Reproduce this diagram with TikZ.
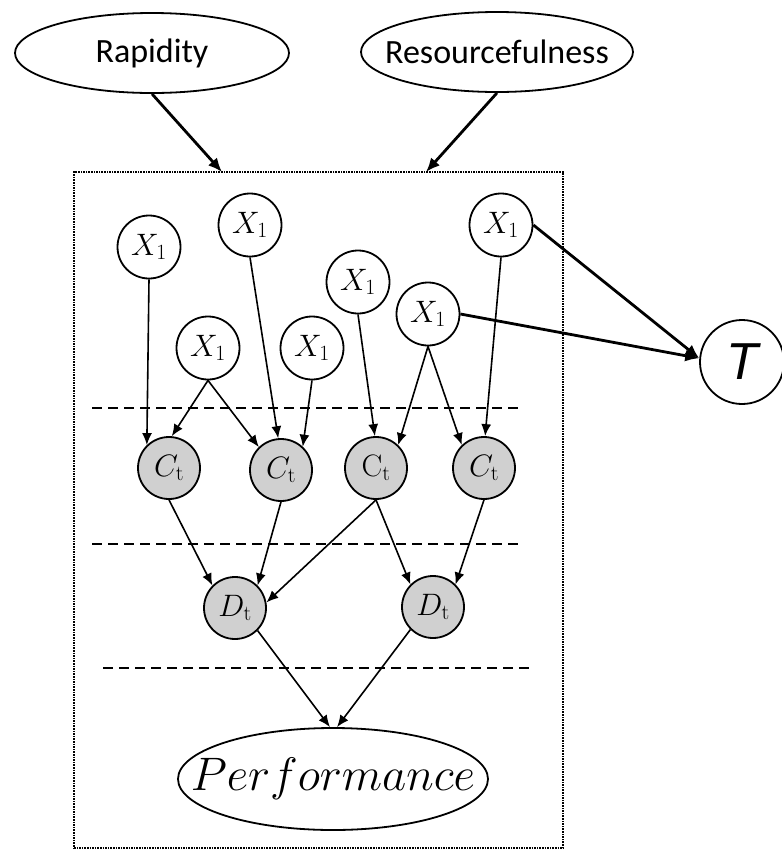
\documentclass[tikz,border=0pt]{standalone}
\usepackage{fix-cm}
\usepackage[no-math]{fontspec}
\setmainfont{Carlito}
\newfontfamily\arialf{Liberation Sans}
\usetikzlibrary{shapes.geometric,arrows.meta}
\definecolor{nodegray}{RGB}{208,208,208}
\begin{document}
\begin{tikzpicture}[x=1pt,y=-1pt,
  xnode/.style={circle,draw,line width=1.8pt,minimum size=63pt,inner sep=0pt,font=\fontsize{31}{34}\selectfont},
  cnode/.style={xnode,fill=nodegray,minimum size=62pt},
  oval/.style={ellipse,draw,line width=1.8pt,inner sep=0pt},
  arr/.style={line width=1.6pt,-{Latex[length=12pt,width=10pt]}},
  tarr/.style={line width=2.8pt,-{Latex[length=14pt,width=12pt]}},
  sep/.style={line width=2pt,dash pattern=on 10pt off 6pt}]
\useasboundingbox (0,0) rectangle (782,855);
% outer nodes
\node[oval,minimum width=274pt,minimum height=80pt,label={[font=\fontsize{34}{40}\selectfont]center:Rapidity}] (Rap) at (152,53) {};
\node[oval,minimum width=272pt,minimum height=80pt,label={[font=\fontsize{34}{40}\selectfont]center:Resourcefulness}] (Res) at (497,52) {};
\node[draw,line width=1.6pt,densely dotted,minimum width=489pt,minimum height=676pt,inner sep=0pt] (box) at (318.5,510) {};
\coordinate (b1) at (222,172);
\coordinate (b2) at (426,172);
\node[circle,draw,line width=1.8pt,minimum size=84pt,inner sep=0pt,font=\arialf\itshape\fontsize{52}{56}\selectfont] (T) at (742,362) {T};
% X nodes
\node[xnode] (Xa) at (149,247) {$X_1$};
\node[xnode] (Xb) at (250,225) {$X_1$};
\node[xnode] (Xc) at (208,348) {$X_1$};
\node[xnode] (Xd) at (312,348) {$X_1$};
\node[xnode] (Xe) at (358,282) {$X_1$};
\node[xnode] (Xf) at (428,314) {$X_1$};
\node[xnode] (Xg) at (501,225) {$X_1$};
% C nodes
\node[cnode] (C1) at (169,468) {$C_{\mathrm{t}}$};
\node[cnode] (C2) at (281,470) {$C_{\mathrm{t}}$};
\node[cnode] (C3) at (376,468) {$\mathrm{C}_{\mathrm{t}}$};
\node[cnode] (C4) at (484,468) {$C_{\mathrm{t}}$};
% D nodes
\node[cnode] (D1) at (235,608) {$D_{\mathrm{t}}$};
\node[cnode] (D2) at (433,607) {$D_{\mathrm{t}}$};
% Performance
\node[oval,minimum width=310pt,minimum height=102pt,label={[font=\fontsize{47}{50}\selectfont]center:$Performance$}] (Perf) at (333,779) {};
\coordinate (p1) at ([xshift=-3pt]Perf.north);
\coordinate (p2) at ([xshift=4pt]Perf.north);
% dashed separators
\coordinate (s1a) at (92,408); \coordinate (s1b) at (522,408);
\coordinate (s2a) at (92,544); \coordinate (s2b) at (522,544);
\coordinate (s3a) at (103,668); \coordinate (s3b) at (533,668);
\draw[sep] (s1a) -- (s1b);
\draw[sep] (s2a) -- (s2b);
\draw[sep] (s3a) -- (s3b);
% top arrows
\draw[tarr] (Rap.south) -- (b1);
\draw[tarr] (Res.south) -- (b2);
% X -> C
\draw[arr] (Xa.south) -- (C1.134);
\draw[arr] (Xc.south) -- (C1.85);
\draw[arr] (Xc.south) -- (C2.134);
\draw[arr] (Xb.south) -- (C2.95);
\draw[arr] (Xd.south) -- (C2.47);
\draw[arr] (Xe.south) -- (C3.92);
\draw[arr] (Xf.south) -- (C3.46);
\draw[arr] (Xf.south) -- (C4.134);
\draw[arr] (Xg.south) -- (C4.88);
% C -> D
\draw[arr] (C1.south) -- (D1.135);
\draw[arr] (C2.south) -- (D1.45);
\draw[arr] (C3.south) -- (D1.10);
\draw[arr] (C3.south) -- (D2.135);
\draw[arr] (C4.south) -- (D2.45);
% D -> Performance
\draw[arr] (D1.-45) -- (p1);
\draw[arr] (D2.-135) -- (p2);
% X -> T
\draw[tarr] (Xg.east) -- (T.175);
\draw[tarr] (Xf.east) -- (T.175);
\end{tikzpicture}
\end{document}
